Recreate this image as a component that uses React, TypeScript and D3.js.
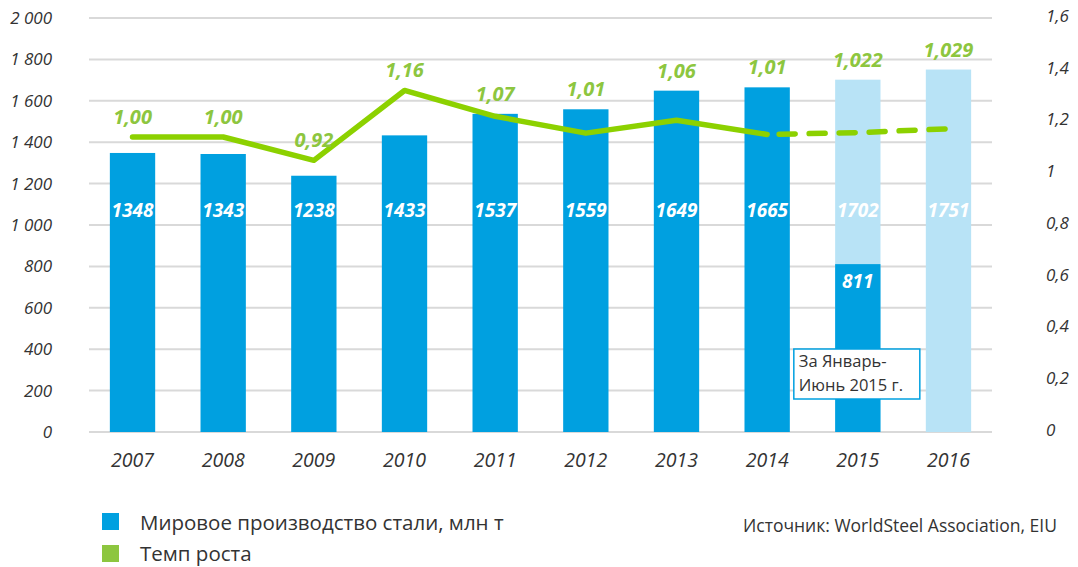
import React from "react";
import * as d3 from "d3";

const years = ["2007", "2008", "2009", "2010", "2011", "2012", "2013", "2014", "2015", "2016"];
const production = [1348, 1343, 1238, 1433, 1537, 1559, 1649, 1665, 1702, 1751];
const forecast = [false, false, false, false, false, false, false, false, true, true];
const halfYearValue = 811; // 2015 Jan-Jun
const growthPlotted = [1.14, 1.14, 1.05, 1.32, 1.22, 1.155, 1.205, 1.15, 1.157, 1.172];
const growthLabels = ["1,00", "1,00", "0,92", "1,16", "1,07", "1,01", "1,06", "1,01", "1,022", "1,029"];
const leftTicks = [0, 200, 400, 600, 800, 1000, 1200, 1400, 1600, 1800, 2000];
const rightTicks = [0, 0.2, 0.4, 0.6, 0.8, 1, 1.2, 1.4, 1.6];
const legendItems = ["Мировое производство стали, млн т", "Темп роста"];
const sourceText = "Источник: WorldSteel Association, EIU";
const noteLines = ["За Январь-", "Июнь 2015 г."];

const W = 1078;
const H = 567;
const BLUE = "#00a0e0";
const LIGHT = "#b8e3f6";
const GREEN_LINE = "#8cd100";
const GREEN_TEXT = "#8dc63f";
const TEXT = "#333333";
const FONT = "'Open Sans', 'Noto Sans', sans-serif";

const fmtLeft = (v: number) => {
  const s = String(v);
  return s.length > 3 ? s.slice(0, s.length - 3) + " " + s.slice(-3) : s;
};
const fmtRight = (v: number) => String(Math.round(v * 10) / 10).replace(".", ",");

export default function App() {
  const x = d3.scaleBand<string>().domain(years).range([89, 992]).paddingInner(0.5).paddingOuter(0.23);
  const yL = d3.scaleLinear().domain([0, 2000]).range([432, 18]);
  const yR = d3.scaleLinear().domain([0, 1.6]).range([432, 18]);
  const bw = x.bandwidth();
  const cx = (y: string) => (x(y) as number) + bw / 2;

  const pts = years.map((y, i) => [cx(y), yR(growthPlotted[i])] as [number, number]);
  const line = d3.line();
  const solidPts = pts.slice(0, 8);
  const dashPts = pts.slice(7);

  return (
    <svg width={W} height={H} style={{ position: "absolute", left: 0, top: 0, fontFamily: FONT }}>
      {/* grid */}
      {leftTicks.map((t) => (
        <line key={"g" + t} x1={89} x2={992} y1={yL(t)} y2={yL(t)} stroke="#d9d9d9" strokeWidth={2} />
      ))}
      {/* left ticks */}
      {leftTicks.map((t) => (
        <text key={"l" + t} x={52} y={yL(t)} dy="0.35em" textAnchor="end" fontSize={17} fontStyle="italic" fill={TEXT}>
          {fmtLeft(t)}
        </text>
      ))}
      {/* right ticks */}
      {rightTicks.map((t) => (
        <text key={"r" + t} x={1046} y={yR(t) - 2} dy="0.35em" textAnchor="start" fontSize={17} fontStyle="italic" fill={TEXT}>
          {fmtRight(t)}
        </text>
      ))}
      {/* bars */}
      {years.map((y, i) => (
        <rect key={"b" + y} x={x(y)} width={bw} y={yL(production[i])} height={432 - yL(production[i])} fill={forecast[i] ? LIGHT : BLUE} />
      ))}
      {/* 2015 half-year bar */}
      <rect x={x("2015")} width={bw} y={yL(halfYearValue)} height={432 - yL(halfYearValue)} fill={BLUE} />
      {/* bar labels */}
      {years.map((y, i) => (
        <text key={"bl" + y} x={cx(y)} y={217} textAnchor="middle" fontSize={19} fontWeight="bold" fontStyle="italic" fill="#ffffff">
          {production[i]}
        </text>
      ))}
      <text x={cx("2015")} y={yL(halfYearValue) + 24} textAnchor="middle" fontSize={19} fontWeight="bold" fontStyle="italic" fill="#ffffff">
        {halfYearValue}
      </text>
      {/* line */}
      <path d={line(solidPts) || ""} fill="none" stroke={GREEN_LINE} strokeWidth={5.5} strokeLinejoin="round" strokeLinecap="round" />
      <path d={line(dashPts) || ""} fill="none" stroke={GREEN_LINE} strokeWidth={5.5} strokeDasharray="16 14" strokeLinecap="round" strokeDashoffset={-12} />
      {/* growth labels */}
      {years.map((y, i) => {
        const top = Math.min(pts[i][1], yL(production[i]));
        return (
          <text key={"gl" + y} x={cx(y)} y={top - 13} textAnchor="middle" fontSize={20} fontWeight="bold" fontStyle="italic" fill={GREEN_TEXT}>
            {growthLabels[i]}
          </text>
        );
      })}
      {/* note box */}
      <g>
        <rect x={cx("2015") - 64} y={349} width={126} height={50} fill="#ffffff" stroke={BLUE} strokeWidth={1.5} />
        {noteLines.map((t, k) => (
          <text key={t} x={cx("2015") - 59} y={367 + k * 24} fontSize={16.5} fill={TEXT}>
            {t}
          </text>
        ))}
      </g>
      {/* x labels */}
      {years.map((y) => (
        <text key={"x" + y} x={cx(y)} y={467} textAnchor="middle" fontSize={19.5} fontStyle="italic" fill={TEXT}>
          {y}
        </text>
      ))}
      {/* legend */}
      {legendItems.map((t, k) => (
        <g key={t}>
          <rect x={102} y={513 + k * 32} width={17} height={17} fill={k === 0 ? BLUE : GREEN_TEXT} />
          <text x={140} y={530 + k * 31} fontSize={20.5} fill={TEXT}>
            {t}
          </text>
        </g>
      ))}
      <text x={1057} y={532} textAnchor="end" fontSize={17.5} fill={TEXT}>
        {sourceText}
      </text>
    </svg>
  );
}
